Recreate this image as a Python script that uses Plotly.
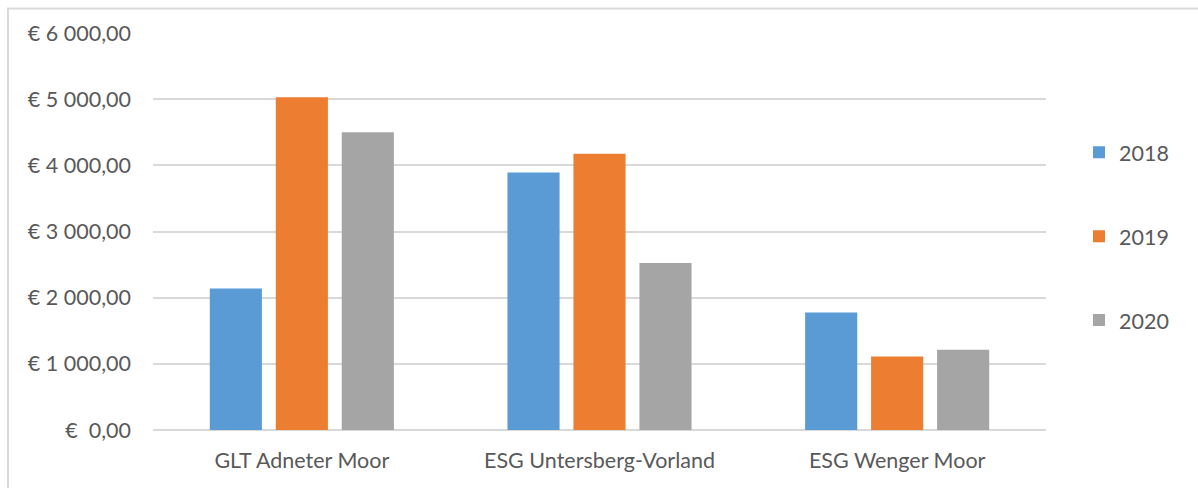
import plotly.graph_objects as go

categories = ["GLT Adneter Moor", "ESG Untersberg-Vorland", "ESG Wenger Moor"]
years = ["2018", "2019", "2020"]
values_2018 = [2140, 3890, 1775]
values_2019 = [5030, 4175, 1112]
values_2020 = [4500, 2525, 1212]
colors = ["#5B9BD5", "#ED7D31", "#A5A5A5"]

tick_vals = [0, 1000, 2000, 3000, 4000, 5000, 6000]
tick_text = ["€  0,00", "€ 1 000,00", "€ 2 000,00", "€ 3 000,00",
             "€ 4 000,00", "€ 5 000,00", "€ 6 000,00"]

W, H = 1198, 488
L, R, T, B = 153, 152, 32.5, 58

fig = go.Figure()
for yr, vals, col in zip(years, [values_2018, values_2019, values_2020], colors):
    fig.add_trace(go.Bar(name=yr, x=categories, y=vals, marker_color=col,
                         marker_line_width=0, legendgroup=yr))

font = dict(family="Lato, 'Open Sans', sans-serif", size=21.5, color="#595959")

pw = W - L - R
ph = H - T - B
def px_x(p):
    return (p - L) / pw
def px_y(p):
    return (H - B - p) / ph

fig.update_layout(
    width=W, height=H,
    margin=dict(l=L, r=R, t=T, b=B),
    paper_bgcolor="white", plot_bgcolor="white",
    font=font,
    barmode="group", bargap=0.335, bargroupgap=0.21,
    showlegend=True,
    legend=dict(x=px_x(1079), xanchor="left", y=px_y(236), yanchor="middle",
                tracegroupgap=53, font=font, bgcolor="rgba(0,0,0,0)"),
    xaxis=dict(showgrid=False, showline=False, ticks="", ticklabelstandoff=15,
               tickfont=font),
    yaxis=dict(range=[0, 6000], tickvals=tick_vals, ticktext=tick_text,
               showgrid=True, gridcolor="#D9D9D9", gridwidth=1.5,
               zeroline=True, zerolinecolor="#D9D9D9", zerolinewidth=1.5,
               showline=False, ticks="", ticklabelstandoff=21, tickfont=font),
    shapes=[dict(type="rect", xref="paper", yref="paper",
                 x0=px_x(8), x1=px_x(1250), y0=px_y(8), y1=px_y(540),
                 line=dict(color="#D9D9D9", width=2), fillcolor="rgba(0,0,0,0)",
                 layer="below")],
)

fig.write_html("out.html")
